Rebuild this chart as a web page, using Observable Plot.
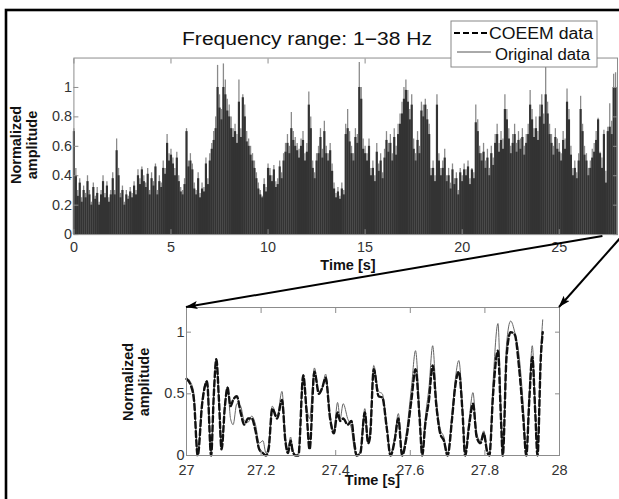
<!DOCTYPE html>
<html><head><meta charset="utf-8">
<script src="https://cdn.jsdelivr.net/npm/d3@7"></script>
<script src="https://cdn.jsdelivr.net/npm/@observablehq/plot@0.6"></script>
<style>
html,body{margin:0;padding:0;background:#fff;overflow:hidden;}
#fig{position:relative;width:619px;height:499px;overflow:hidden;background:#fff;font-family:"Liberation Sans",Arial,sans-serif;}
#fig > svg{position:absolute;left:0;}
</style></head><body><div id="fig"></div>
<script>
const title = "Frequency range: 1\u221238 Hz";
const seriesNames = ["COEEM data", "Original data"];
const yLabelLines = ["Normalized", "amplitude"];
const xLabel = "Time [s]";

// overview: peak amplitude in each 0.1 s step, 0 .. 27.9 s
const topStep = 0.1;
const topOriginal = [
 0.72,0.45,0.30,0.38,0.25,0.33,0.28,0.40,0.30,0.22,
 0.35,0.26,0.32,0.22,0.30,0.40,0.28,0.36,0.25,0.30,
 0.42,0.30,0.65,0.45,0.28,0.33,0.22,0.30,0.26,0.32,
 0.28,0.36,0.30,0.44,0.38,0.46,0.40,0.35,0.45,0.30,
 0.42,0.36,0.48,0.30,0.40,0.35,0.50,0.45,0.68,0.55,
 0.58,0.52,0.45,0.56,0.40,0.32,0.30,0.38,0.72,0.50,
 0.55,0.48,0.35,0.30,0.42,0.28,0.35,0.32,0.52,0.38,
 0.55,0.62,0.70,0.80,1.15,0.95,0.85,1.16,1.05,0.92,
 0.88,0.80,0.72,0.75,0.68,1.05,0.72,0.95,0.88,0.70,
 0.65,0.60,0.55,0.50,0.42,0.35,0.30,0.26,0.38,0.32,
 0.48,0.45,0.40,0.47,0.36,0.38,0.50,0.42,0.55,0.62,
 0.68,0.60,0.83,0.70,0.66,0.62,0.58,0.65,0.70,0.55,
 0.62,0.97,0.80,0.50,0.42,0.55,0.60,0.72,0.58,0.77,
 0.60,0.55,0.62,0.48,0.35,0.28,0.32,0.26,0.35,0.30,
 0.75,0.85,0.70,0.60,0.55,0.72,0.68,1.17,1.00,0.65,
 0.60,0.55,0.65,0.45,0.50,0.40,0.62,0.48,0.55,0.42,
 0.58,0.70,0.62,0.68,0.55,0.72,0.60,0.75,0.82,0.90,
 1.00,1.05,0.98,0.85,0.95,0.65,0.55,0.70,0.60,0.90,
 0.88,0.92,0.85,0.75,0.45,0.50,0.40,0.95,0.55,0.45,
 0.50,0.58,0.40,0.45,0.35,0.48,0.38,0.42,0.30,0.45,
 0.40,0.48,0.44,0.50,0.38,0.45,0.42,0.88,0.78,0.60,
 0.55,0.62,0.50,0.58,0.45,0.60,0.52,0.68,0.75,0.62,
 0.70,0.65,0.95,0.85,0.72,0.60,0.68,0.75,0.62,0.70,
 0.65,0.72,0.60,0.68,0.75,0.98,0.85,0.72,0.80,0.70,
 0.88,0.95,0.82,1.17,0.90,0.75,0.68,0.60,0.72,0.65,
 0.62,0.55,0.70,0.65,0.99,0.85,0.60,0.45,0.50,0.42,
 0.55,0.94,0.75,0.60,0.55,0.45,0.50,0.58,0.62,0.70,
 0.79,0.56,0.52,0.71,0.43,0.73,0.89,0.77,1.09,1.10
];
const topCoeem = [
 0.70,0.40,0.26,0.35,0.22,0.30,0.25,0.36,0.27,0.20,
 0.32,0.24,0.28,0.20,0.27,0.36,0.25,0.33,0.22,0.27,
 0.38,0.27,0.57,0.40,0.25,0.30,0.20,0.27,0.24,0.29,
 0.25,0.33,0.27,0.40,0.34,0.44,0.36,0.32,0.41,0.27,
 0.38,0.33,0.46,0.27,0.36,0.32,0.45,0.41,0.62,0.50,
 0.54,0.48,0.40,0.52,0.36,0.29,0.27,0.34,0.70,0.46,
 0.50,0.44,0.31,0.27,0.38,0.25,0.31,0.29,0.48,0.34,
 0.50,0.58,0.64,0.72,1.00,0.86,0.78,1.00,0.95,0.84,
 0.80,0.72,0.66,0.70,0.62,0.90,0.66,0.93,0.80,0.63,
 0.60,0.54,0.50,0.45,0.38,0.31,0.27,0.25,0.34,0.29,
 0.45,0.40,0.36,0.44,0.32,0.34,0.46,0.38,0.50,0.56,
 0.62,0.55,0.72,0.64,0.60,0.57,0.52,0.60,0.64,0.50,
 0.56,0.88,0.72,0.45,0.38,0.50,0.55,0.66,0.52,0.70,
 0.55,0.50,0.57,0.43,0.31,0.25,0.29,0.24,0.31,0.27,
 0.68,0.72,0.63,0.55,0.50,0.66,0.62,1.00,0.92,0.58,
 0.55,0.50,0.60,0.40,0.45,0.36,0.56,0.43,0.50,0.38,
 0.52,0.64,0.56,0.62,0.50,0.66,0.54,0.68,0.75,0.82,
 0.92,0.98,0.90,0.78,0.88,0.58,0.50,0.64,0.55,0.84,
 0.80,0.88,0.78,0.68,0.40,0.45,0.36,0.88,0.50,0.40,
 0.45,0.52,0.36,0.40,0.31,0.44,0.34,0.38,0.27,0.42,
 0.36,0.44,0.40,0.46,0.34,0.44,0.38,0.76,0.70,0.55,
 0.50,0.56,0.45,0.52,0.40,0.55,0.47,0.62,0.68,0.56,
 0.64,0.58,0.85,0.78,0.65,0.55,0.62,0.68,0.56,0.64,
 0.58,0.66,0.54,0.62,0.68,0.88,0.78,0.66,0.72,0.64,
 0.80,0.88,0.75,0.95,0.82,0.68,0.62,0.54,0.66,0.58,
 0.56,0.50,0.64,0.58,0.90,0.78,0.54,0.40,0.45,0.38,
 0.50,0.85,0.70,0.54,0.50,0.40,0.45,0.52,0.56,0.64,
 0.78,0.55,0.45,0.68,0.35,0.70,0.73,0.68,1.00,1.00
];

// zoom window 27 .. 28 s
const zoomT = [27.000,27.010,27.020,27.030,27.042,27.055,27.066,27.073,27.080,27.087,27.094,27.103,27.110,27.118,27.125,27.135,27.145,27.155,27.165,27.175,27.185,27.195,27.205,27.213,27.220,27.230,27.243,27.256,27.265,27.272,27.279,27.285,27.293,27.300,27.313,27.322,27.330,27.343,27.355,27.364,27.373,27.385,27.395,27.405,27.412,27.420,27.432,27.442,27.450,27.456,27.466,27.478,27.487,27.492,27.502,27.515,27.525,27.537,27.547,27.558,27.568,27.578,27.590,27.603,27.614,27.625,27.632,27.640,27.650,27.660,27.670,27.680,27.690,27.700,27.712,27.720,27.730,27.740,27.747,27.758,27.768,27.778,27.788,27.797,27.806,27.812,27.822,27.835,27.843,27.848,27.858,27.869,27.880,27.892,27.903,27.911,27.919,27.927,27.935,27.941,27.950,27.955];
const zoomOriginal = [0.63,0.60,0.50,0.02,0.45,0.61,0.02,0.50,0.79,0.45,0.05,0.42,0.56,0.30,0.25,0.42,0.40,0.28,0.27,0.32,0.25,0.10,0.12,0.02,0.08,0.40,0.32,0.52,0.15,0.05,0.15,0.05,0.00,0.02,0.66,0.40,0.30,0.71,0.52,0.55,0.66,0.33,0.20,0.43,0.30,0.42,0.30,0.22,0.05,0.00,0.03,0.38,0.12,0.20,0.73,0.52,0.50,0.25,0.01,0.15,0.34,0.02,0.20,0.55,0.85,0.35,0.02,0.30,0.55,0.89,0.45,0.22,0.15,0.02,0.35,0.60,0.77,0.40,0.02,0.30,0.51,0.18,0.12,0.20,0.05,0.02,0.60,1.07,0.40,0.02,0.90,1.09,1.00,0.80,0.40,0.02,0.50,0.89,0.40,0.02,0.85,1.10];
const zoomCoeem = [0.62,0.58,0.45,0.00,0.42,0.60,0.00,0.48,0.78,0.45,0.05,0.40,0.55,0.40,0.45,0.48,0.35,0.25,0.30,0.30,0.20,0.05,0.02,0.00,0.05,0.38,0.30,0.45,0.12,0.02,0.12,0.03,0.00,0.00,0.65,0.35,0.05,0.68,0.50,0.55,0.63,0.30,0.18,0.35,0.28,0.30,0.25,0.28,0.10,0.00,0.02,0.35,0.10,0.15,0.70,0.48,0.47,0.22,0.00,0.12,0.30,0.00,0.15,0.45,0.70,0.30,0.00,0.25,0.45,0.73,0.40,0.18,0.12,0.00,0.30,0.55,0.68,0.35,0.00,0.25,0.42,0.15,0.10,0.18,0.03,0.00,0.50,0.85,0.30,0.00,0.80,1.00,0.98,0.70,0.30,0.00,0.45,0.80,0.35,0.00,0.80,1.00];

const topXTicks = [0,5,10,15,20,25];
const topYTicks = [0,0.2,0.4,0.6,0.8,1];
const lowXTicks = [27,27.2,27.4,27.6,27.8,28];
const lowYTicks = [0,0.5,1];
const zoomWindow = [27, 28];

const FONT = "Liberation Sans, Arial, Helvetica, sans-serif";
const AX = "#8c8c8c", TXT = "#333";
const fmt = d => String(+(+d).toFixed(2));
const fig = document.getElementById("fig");

function axes(xt, yt, xPad) {
  return [
    Plot.frame({stroke: AX}),
    Plot.axisX({anchor: "bottom", ticks: xt, tickFormat: fmt, tickSize: -5, tickPadding: xPad, stroke: AX, fill: TXT, label: null}),
    Plot.axisX({anchor: "top", ticks: xt, tickSize: -5, tickFormat: () => "", stroke: AX, label: null}),
    Plot.axisY({anchor: "left", ticks: yt, tickFormat: fmt, tickSize: -5, tickPadding: 7, stroke: AX, fill: TXT, label: null}),
    Plot.axisY({anchor: "right", ticks: yt, tickSize: -5, tickFormat: () => "", stroke: AX, label: null})
  ];
}

const topData = topOriginal.map((v, i) => ({t: +(i * topStep).toFixed(2), orig: v, coeem: topCoeem[i]}));
const topTop = 0;
const topPlot = Plot.plot({
  width: 624, height: 280, marginLeft: 74, marginRight: 2, marginTop: 58, marginBottom: 44,
  style: {background: "transparent", fontFamily: FONT, fontSize: "14.5px", overflow: "visible"},
  x: {domain: [0, 28]},
  y: {domain: [0, 1.2]},
  marks: [
    Plot.ruleX(topData, {x: "t", y1: 0, y2: "orig", stroke: "#8a8a8a", strokeWidth: 1.3}),
    Plot.ruleX(topData, {x: "t", y1: 0, y2: "coeem", stroke: "#333", strokeWidth: 2.2}),
    ...axes(topXTicks, topYTicks, 12)
  ]
});
topPlot.style.top = topTop + "px";
fig.appendChild(topPlot);

const lowData = zoomT.map((t, i) => ({t, orig: zoomOriginal[i], coeem: zoomCoeem[i]}));
const lowTop = 280;
const lowPlot = Plot.plot({
  width: 619, height: 219, marginLeft: 186, marginRight: 60, marginTop: 27, marginBottom: 44,
  style: {background: "transparent", fontFamily: FONT, fontSize: "14.5px", overflow: "visible"},
  x: {domain: zoomWindow},
  y: {domain: [0, 1.2]},
  marks: [
    Plot.lineY(lowData, {x: "t", y: "orig", stroke: "#666", strokeWidth: 1, curve: "monotone-x"}),
    Plot.lineY(lowData, {x: "t", y: "coeem", stroke: "#111", strokeWidth: 2.4, strokeDasharray: "6,3", curve: "monotone-x"}),
    ...axes(lowXTicks, lowYTicks, 14)
  ]
});
lowPlot.style.top = lowTop + "px";
fig.appendChild(lowPlot);

// overlay: border, title, legend, axis labels, arrows
const sx1 = topPlot.scale("x"), sy1 = topPlot.scale("y");
const sx2 = lowPlot.scale("x"), sy2 = lowPlot.scale("y");
const svg = d3.select(fig).append("svg").attr("width", 619).attr("height", 499)
  .style("top", "0px").style("font-family", FONT);

const defs = svg.append("defs");
defs.append("marker").attr("id", "ah").attr("viewBox", "0 0 12 8").attr("refX", 11.5).attr("refY", 4)
  .attr("markerWidth", 13).attr("markerHeight", 8).attr("orient", "auto").attr("markerUnits", "userSpaceOnUse")
  .append("path").attr("d", "M0,0L12,4L0,8L2.5,4z").attr("fill", "#000");

svg.append("rect").attr("x", 6).attr("y", 10).attr("width", 700).attr("height", 700)
  .attr("fill", "none").attr("stroke", "#000").attr("stroke-width", 2.6);

svg.append("text").attr("x", 307).attr("y", 45).attr("text-anchor", "middle")
  .attr("font-size", 18).attr("fill", "#111")
  .attr("textLength", 250).attr("lengthAdjust", "spacingAndGlyphs").text(title);

// legend
const lg = svg.append("g");
lg.append("rect").attr("x", 451).attr("y", 21).attr("width", 146).attr("height", 46)
  .attr("fill", "#fff").attr("stroke", "#888").attr("stroke-width", 1);
lg.append("line").attr("x1", 454).attr("x2", 487).attr("y1", 33).attr("y2", 33)
  .attr("stroke", "#000").attr("stroke-width", 2.2).attr("stroke-dasharray", "6,3");
lg.append("text").attr("x", 489).attr("y", 39).attr("font-size", 16).attr("fill", "#111")
  .attr("textLength", 104).attr("lengthAdjust", "spacingAndGlyphs").text(seriesNames[0]);
lg.append("line").attr("x1", 457).attr("x2", 491).attr("y1", 52).attr("y2", 52)
  .attr("stroke", "#555").attr("stroke-width", 1);
lg.append("text").attr("x", 495).attr("y", 60).attr("font-size", 16).attr("fill", "#111")
  .attr("textLength", 95).attr("lengthAdjust", "spacingAndGlyphs").text(seriesNames[1]);

function ylab(cx, cy) {
  const g = svg.append("g").attr("transform", `translate(${cx},${cy}) rotate(-90)`);
  g.append("text").attr("x", 0).attr("y", -3).attr("text-anchor", "middle").attr("font-size", 14.5)
    .attr("font-weight", "bold").attr("fill", "#111").text(yLabelLines[0]);
  g.append("text").attr("x", 0).attr("y", 13).attr("text-anchor", "middle").attr("font-size", 14.5)
    .attr("font-weight", "bold").attr("fill", "#111").text(yLabelLines[1]);
}
ylab(24, topTop + (sy1.range[0] + sy1.range[1]) / 2 - 2);
ylab(136, lowTop + (sy2.range[0] + sy2.range[1]) / 2 + 1);

function xlab(cx, y) {
  svg.append("text").attr("x", cx).attr("y", y).attr("text-anchor", "middle").attr("font-size", 14.5)
    .attr("font-weight", "bold").attr("fill", "#111").text(xLabel);
}
xlab((sx1.range[0] + sx1.range[1]) / 2, topTop + sy1.apply(0) + 34);
xlab((sx2.range[0] + sx2.range[1]) / 2, lowTop + sy2.apply(0) + 30);

// arrows from the zoomed window on the overview to the zoom panel corners
zoomWindow.forEach(t => {
  svg.append("line")
    .attr("x1", sx1.apply(t)).attr("y1", topTop + sy1.apply(0))
    .attr("x2", sx2.apply(t)).attr("y2", lowTop + sy2.apply(1.2))
    .attr("stroke", "#000").attr("stroke-width", 2).attr("marker-end", "url(#ah)");
});
</script></body></html>
